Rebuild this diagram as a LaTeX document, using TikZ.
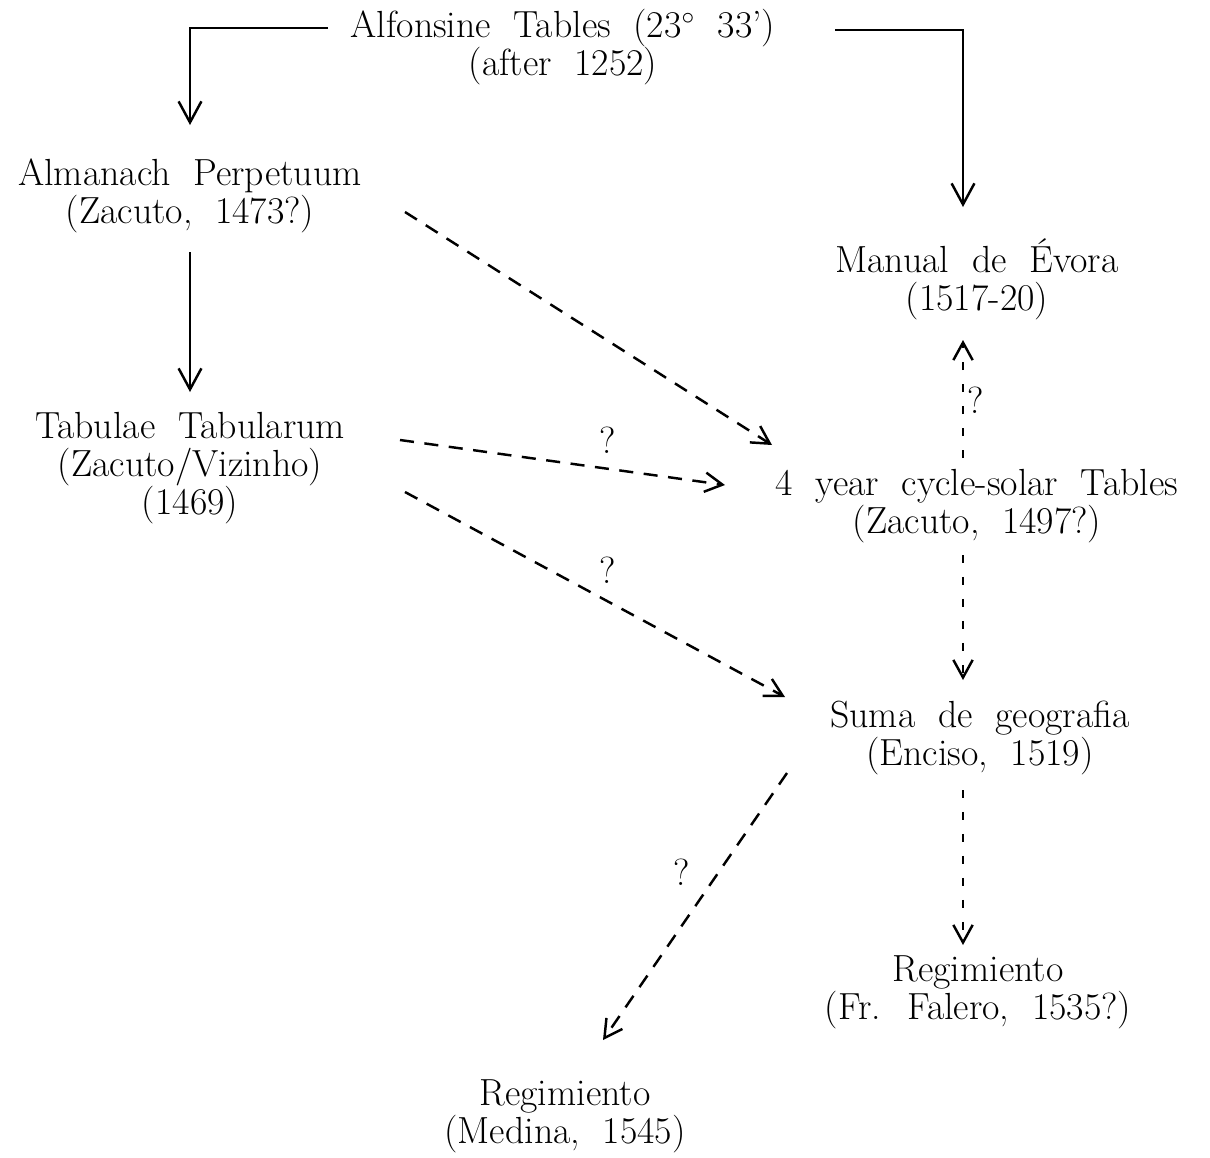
\documentclass[tikz,border=0pt]{standalone}
\usepackage{fontspec}
\usetikzlibrary{arrows.meta,calc}
\newcommand\tablefont{\fontsize{21.5pt}{21.6pt}\selectfont\spaceskip=0.6em plus 0.1em}
\tikzset{
  entry/.style={align=center, inner sep=2pt, font=\tablefont},
  query/.style={inner sep=0pt, font=\tablefont},
  link/.style={line width=1.4pt, -{Straight Barb[length=12pt,width=13pt,line width=1.4pt]}},
  maybe/.style={link, dash pattern=on 8pt off 6pt, -{Straight Barb[length=10pt,width=11pt,line width=1.4pt]}},
  maybev/.style={maybe, dash pattern=on 4.5pt off 8pt}
}
\begin{document}
\begin{tikzpicture}[x=0.02cm, y=-0.02cm]
        \useasboundingbox (0,0) rectangle (1210,1157);
        % Tables
        \node[entry] (alf) at (563,47) {Alfonsine Tables (23$^{\circ}$ 33’)\\(after 1252)};
        \node[entry] (alm) at (190,196) {Almanach Perpetuum\\(Zacuto, 1473?)};
        \node[entry] (tab) at (190,468) {Tabulae Tabularum\\(Zacuto/Vizinho)\\(1469)};
        \node[entry] (man) at (977,279) {Manual de Évora\\(1517-20)};
        \node[entry] (cyc) at (977,506) {4 year cycle-solar Tables\\(Zacuto, 1497?)};
        \node[entry] (suma) at (980,738) {Suma de geografia\\(Enciso, 1519)};
        \node[entry] (fal) at (978,992) {Regimiento\\(Fr. Falero, 1535?)};
        \node[entry] (med) at (565,1116) {Regimiento\\(Medina, 1545)};
        % Certain descent
        \draw[link] ($(alf)+(-235,-19)$) -| ($(alm)+(0,-71)$);
        \draw[link] ($(alf)+(272,-17)$) -| ($(man)+(-14,-72)$);
        \draw[link] ($(alm)+(0,56)$) -- ($(tab)+(0,-76)$);
        % Doubtful descent
        \draw[maybe] ($(alm)+(215,16)$) -- ($(cyc)+(-205,-61)$);
        \draw[maybe] ($(tab)+(210,-28)$) -- ($(cyc)+(-252,-21)$);
        \draw[maybe] ($(tab)+(215,24)$) -- ($(suma)+(-195,-41)$);
        \draw[maybe] ($(suma)+(-193,35)$) -- ($(med)+(38,-76)$);
        \draw[maybev] ($(cyc)+(-14,-48)$) -- ($(man)+(-14,61)$);
        \draw[maybev] ($(cyc)+(-14,49)$) -- ($(suma)+(-17,-58)$);
        \draw[maybev] ($(suma)+(-17,52)$) -- ($(fal)+(-15,-47)$);
        % Question marks
        \node[query] (q1) at (608,440) {?};
        \node[query] (q2) at (608,570) {?};
        \node[query] (q3) at (976,400) {?};
        \node[query] (q4) at (682,872) {?};
\end{tikzpicture}
\end{document}
